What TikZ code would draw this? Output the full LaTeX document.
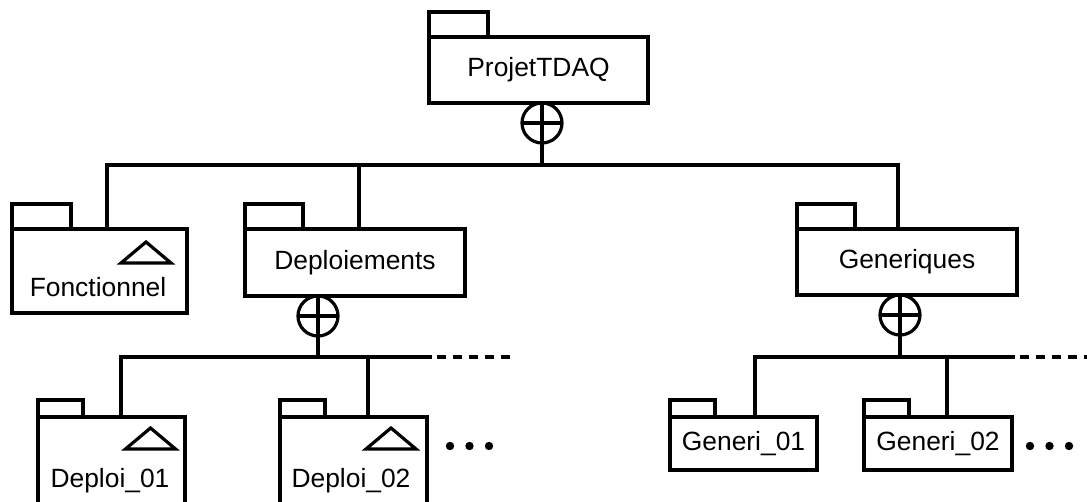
\documentclass[tikz,border=0pt]{standalone}
\usepackage{fontspec}
\setmainfont{Liberation Sans}
\usepackage{tikz}
\usetikzlibrary{positioning, calc}

\tikzset{
  pkgline/.style={line width=1.6pt},
  pkgbody/.style={draw, pkgline, inner sep=0pt, outer sep=0pt},
  pkgname/.style={font=\fontsize{13.2}{15}\selectfont, inner sep=0pt},
  nest/.style={draw, circle, pkgline, minimum size=20pt, inner sep=0pt, outer sep=0pt},
}

\begin{document}
\begin{tikzpicture}[x=0.5pt, y=-0.5pt]
  \useasboundingbox (0,0) rectangle (1087,502);
  % package bodies
  \node[pkgbody, pkgname, minimum width=109.5pt, minimum height=33pt] (projet) at (538.5,70) {ProjetTDAQ};
  \node[pkgbody, minimum width=87.5pt, minimum height=42pt] (fonc) at (99.5,271) {};
  \node[pkgbody, pkgname, minimum width=110pt, minimum height=33.5pt] (depl) at (355,262.5) {Deploiements};
  \node[pkgbody, pkgname, minimum width=110pt, minimum height=33pt] (gen) at (907,262) {Generiques};
  \node[pkgbody, minimum width=73.5pt, minimum height=46.5pt] (depl1) at (111.5,463.5) {};
  \node[pkgbody, minimum width=73.5pt, minimum height=46.5pt] (depl2) at (353.5,463.5) {};
  \node[pkgbody, pkgname, minimum width=73.5pt, minimum height=26.5pt] (gen1) at (743.5,443.5) {Generi\_01};
  \node[pkgbody, pkgname, minimum width=74pt, minimum height=26.5pt] (gen2) at (938,443.5) {Generi\_02};
  \node[pkgname] (fonc-l) at (98,287) {Fonctionnel};
  \node[pkgname] (depl1-l) at (110,481) {Deploi\_01};
  \node[pkgname] (depl2-l) at (351,481) {Deploi\_02};
  % tabs
  \foreach \p/\w/\h in {projet/59/25, fonc/59/25, depl/58/25, gen/58/25,
                        depl1/45/17, depl2/45/17, gen1/45/17, gen2/45/17}{
    \draw[pkgline] (\p.north west) -- ++(0,-\h) -- ++(\w,0) -- ++(0,\h);
  }
  % abstract packages
  \foreach \x/\y in {146/242, 150.5/428, 391/428}{
    \draw[pkgline] (\x,\y) -- ++(-25,21) -- ++(50,0) -- cycle;
  }
  % nesting symbols
  \node[nest] (projet-nest) at (542,123) {};
  \node[nest] (depl-nest) at (318,316) {};
  \node[nest] (gen-nest) at (900,315) {};
  \foreach \n in {projet-nest, depl-nest, gen-nest}{
    \draw[pkgline] (\n.north) -- (\n.south);
    \draw[pkgline] (\n.west) -- (\n.east);
  }
  % first level
  \coordinate (bus) at (542,165);
  \draw[pkgline] (projet-nest.south) -- (bus);
  \draw[pkgline] ([xshift=47.5pt]fonc.north west) |- (bus) -| ([xshift=50.5pt]gen.north west);
  \draw[pkgline] ([xshift=57pt]depl.north west) -- ([xshift=57pt]depl.north west |- bus);
  % Deploiements
  \coordinate (dbus) at (318,357);
  \coordinate (dbus-end) at (510,357);
  \draw[pkgline] (depl-nest.south) -- (dbus);
  \draw[pkgline] ([xshift=41.5pt]depl1.north west) |- (dbus) -| ([xshift=44pt]depl2.north west);
  \draw[pkgline] (dbus) -- (432,357);
  \draw[pkgline, dash pattern=on 4.5pt off 3.5pt, dash phase=-2.5pt] (432,357) -- (dbus-end);
  % Generiques
  \coordinate (gbus) at (900,357);
  \coordinate (gbus-end) at (1095,357);
  \draw[pkgline] (gen-nest.south) -- (gbus);
  \draw[pkgline] ([xshift=42.5pt]gen1.north west) |- (gbus) -| ([xshift=41.5pt]gen2.north west);
  \draw[pkgline] (gbus) -- (1015,357);
  \draw[pkgline, dash pattern=on 4.5pt off 3.5pt, dash phase=-2.5pt] (1015,357) -- (gbus-end);
  % more packages
  \foreach \x in {450,469.5,489,1030,1049.5,1069}{
    \fill (\x,446) circle (2.1pt);
  }
\end{tikzpicture}
\end{document}
